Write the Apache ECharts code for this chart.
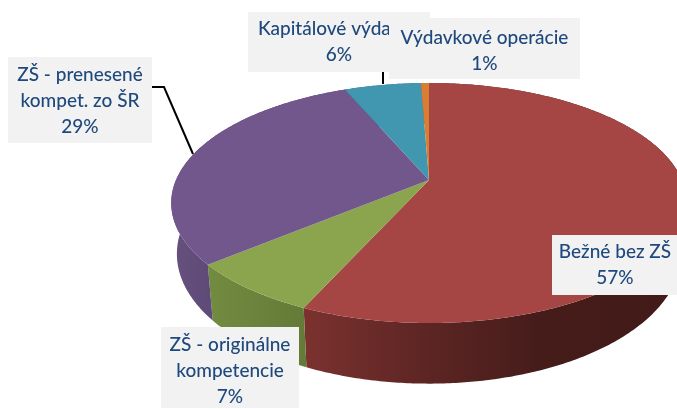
<!DOCTYPE html>
<html>
<head>
<meta charset="utf-8">
<style>
  html, body { margin: 0; padding: 0; background: #fff; }
  #main { width: 677px; height: 409px; }
</style>
<script src="https://cdn.jsdelivr.net/npm/echarts@6/dist/echarts.min.js"></script>
</head>
<body>
<div id="main"></div>
<script>
// hodnoty odcitane z obrazka, poradie v smere hodinovych ruciciek od 12:00
let categories = ['Bežné bez ZŠ', 'ZŠ - originálne\nkompetencie', 'ZŠ - prenesené\nkompet. zo ŠR', 'Kapitálové výdavky', 'Výdavkové operácie'];
let shares = [56.7, 7.2, 29.7, 5.8, 0.6];   // odhad z uhlov vysekov
let percentLabels = ['57%', '7%', '29%', '6%', '1%'];

let topColors = ['#A54644', '#8AA54E', '#71578C', '#4097AF', '#D97E33'];
let wallColors = [
  [[300, '#7C322F'], [420, '#5E2624'], [540, '#451C1A'], [680, '#421A18']],
  [[205, '#728C40'], [305, '#647A38']],
  [[170, '#66507F'], [215, '#5E4A76']],
  [[330, '#2F7084'], [430, '#2F7084']],
  [[420, '#A45F26'], [430, '#A45F26']]
];

// kde su popisky a odkazove ciary
let labelBoxes = [
  { x: 552, y: 235, w: 126, h: 60, dy: 0 },
  { x: 161, y: 327, w: 138, h: 81, dy: 3 },
  { x: 8, y: 57, w: 144, h: 86, dy: 1 },
  { x: 248, y: 12, w: 182, h: 60, dy: 0 },
  { x: 389, y: 18, w: 191, h: 61, dy: 2 }
];
let leaders = [null, null, [[152, 87], [164, 87], [193, 154]], [[383, 72], [383, 84]], null];

// perspektiva kolaca
let pie = { cx: 429, cy: 180, r: 253, s: 115.6, k: 0.1917, h: 49, shrink: 0.978 };

function rimPoint(angle, bottom) {
  let u = Math.sin(angle);
  let v = -Math.cos(angle);
  let d = 1 - pie.k * v;
  if (bottom) {
    return [pie.cx + pie.shrink * pie.r * u / d, pie.cy + (pie.s * v + pie.h) / d];
  }
  return [pie.cx + pie.r * u / d, pie.cy + pie.s * v / d];
}

function sliceAngles(index) {
  let before = 0;
  for (let i = 0; i < index; i++) before += shares[i];
  let total = shares.reduce((a, b) => a + b, 0);
  return [before / total * Math.PI * 2, (before + shares[index]) / total * Math.PI * 2];
}

function rimPoints(index, bottom) {
  let [a0, a1] = sliceAngles(index);
  let steps = Math.max(2, Math.ceil((a1 - a0) / 0.01));
  let pts = [];
  for (let i = 0; i <= steps; i++) {
    pts.push(rimPoint(a0 + (a1 - a0) * i / steps, bottom));
  }
  return pts;
}

function renderWall(params) {
  let i = params.dataIndex;
  let stops = wallColors[i];
  let x0 = stops[0][0];
  let x1 = stops[stops.length - 1][0];
  let gradient = new echarts.graphic.LinearGradient(x0, 0, x1, 0,
    stops.map(s => ({ offset: (s[0] - x0) / (x1 - x0), color: s[1] })), true);
  return {
    type: 'polygon',
    shape: { points: rimPoints(i, false).concat(rimPoints(i, true).reverse()) },
    style: { fill: gradient }
  };
}

function renderTop(params) {
  let i = params.dataIndex;
  return {
    type: 'polygon',
    shape: { points: [[pie.cx, pie.cy]].concat(rimPoints(i, false)) },
    style: { fill: topColors[i] }
  };
}

function renderLabel(params) {
  let i = params.dataIndex;
  let box = labelBoxes[i];
  let children = [];
  if (leaders[i]) {
    children.push({
      type: 'polyline',
      shape: { points: leaders[i] },
      style: { stroke: '#000', lineWidth: 2, fill: null }
    });
  }
  children.push({
    type: 'rect',
    shape: { x: box.x, y: box.y, width: box.w, height: box.h },
    style: { fill: '#F2F2F2' }
  });
  children.push({
    type: 'text',
    style: {
      x: box.x + box.w / 2,
      y: box.y + box.h / 2 + box.dy,
      text: categories[i] + '\n' + percentLabels[i],
      fill: '#1F497D',
      font: '500 19px Lato',
      lineHeight: 26,
      align: 'center',
      verticalAlign: 'middle'
    }
  });
  return { type: 'group', children: children };
}

let chart = echarts.init(document.getElementById('main'), null, { renderer: 'canvas' });
let seriesBase = {
  type: 'custom',
  coordinateSystem: 'none',
  silent: true,
  animation: false,
  data: shares
};

chart.setOption({
  backgroundColor: '#fff',
  series: [
    Object.assign({}, seriesBase, { name: 'steny', z: 1, renderItem: renderWall }),
    Object.assign({}, seriesBase, { name: 'kolac', z: 2, renderItem: renderTop }),
    Object.assign({}, seriesBase, { name: 'popisky', z: 3, renderItem: renderLabel })
  ]
});
</script>
</body>
</html>
